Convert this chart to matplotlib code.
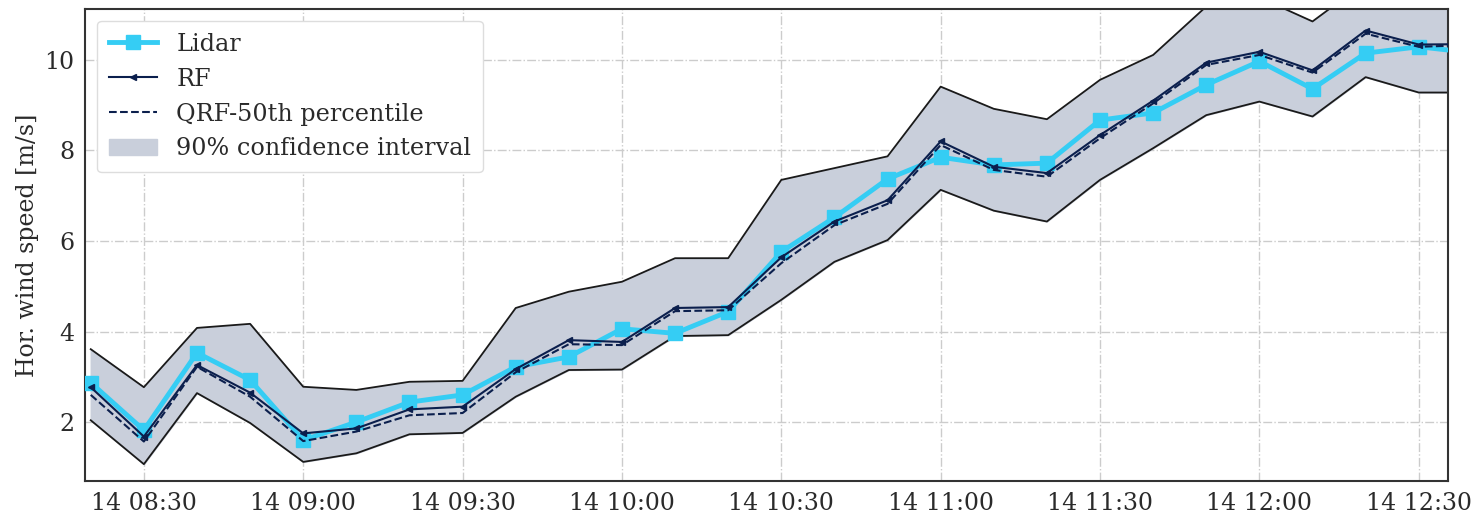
import numpy as np
import pandas as pd
import matplotlib
matplotlib.use("Agg")
import matplotlib.pyplot as plt
import matplotlib.dates as mdates

# ============================================
# data (10 min steps)
times = pd.date_range("2020-06-14 08:20", periods=27, freq="10min")

lidar = [2.87, 1.82, 3.53, 2.93, 1.60, 2.00, 2.44, 2.60, 3.22, 3.44, 4.06, 3.96, 4.44,
         5.76, 6.52, 7.37, 7.85, 7.68, 7.72, 8.67, 8.83, 9.45, 9.97, 9.36, 10.15, 10.29, 10.16]
rf = [2.77, 1.68, 3.26, 2.65, 1.75, 1.86, 2.28, 2.34, 3.17, 3.81, 3.77, 4.52, 4.54,
      5.64, 6.43, 6.90, 8.20, 7.64, 7.50, 8.34, 9.10, 9.94, 10.18, 9.77, 10.65, 10.34, 10.35]
qrf50 = [2.60, 1.57, 3.22, 2.56, 1.58, 1.79, 2.15, 2.20, 3.10, 3.72, 3.70, 4.45, 4.47,
         5.51, 6.35, 6.82, 8.12, 7.57, 7.42, 8.27, 9.04, 9.89, 10.11, 9.72, 10.58, 10.29, 10.33]
upper = [3.61, 2.77, 4.08, 4.17, 2.78, 2.71, 2.89, 2.91, 4.52, 4.88, 5.10, 5.62, 5.62,
         7.35, 7.61, 7.87, 9.41, 8.92, 8.69, 9.56, 10.11, 11.18, 11.38, 10.85, 11.72, 11.60, 11.50]
lower = [2.04, 1.07, 2.64, 1.98, 1.12, 1.31, 1.73, 1.76, 2.56, 3.15, 3.16, 3.90, 3.92,
         4.70, 5.54, 6.02, 7.13, 6.67, 6.43, 7.35, 8.05, 8.78, 9.08, 8.75, 9.62, 9.28, 9.28]

# ============================================
# plot
plt.rcParams['font.family'] = ['DejaVu Serif']

fig = plt.figure(figsize=(14.73, 5.16), dpi=100)
ax = fig.add_axes([0.058, 0.068, 0.925, 0.915])

navy = '#0b1f4d'
ax.fill_between(times, lower, upper, color='#c9cfdb', label='90% confidence interval', zorder=1)
ax.plot(times, upper, color='#1a1a1a', linewidth=1.3, zorder=2)
ax.plot(times, lower, color='#1a1a1a', linewidth=1.3, zorder=2)

ax.plot(times, lidar, color='#35cdf4', linewidth=3.5, marker='s', markersize=10,
        label='Lidar', zorder=3)
ax.plot(times, rf, color=navy, linewidth=1.5, marker='<', markersize=5,
        label='RF', zorder=4)
ax.plot(times, qrf50, color=navy, linewidth=1.5, linestyle='--',
        label='QRF-50th percentile', zorder=4)

ax.set_xlim(pd.Timestamp("2020-06-14 08:19"), pd.Timestamp("2020-06-14 12:35:30"))
ax.set_ylim(0.7, 11.13)
ax.set_yticks([2, 4, 6, 8, 10])
ax.xaxis.set_major_locator(mdates.MinuteLocator(byminute=[0, 30]))
ax.xaxis.set_major_formatter(mdates.DateFormatter('%d %H:%M'))

ax.grid(True, color='#cccccc', linestyle='-.', linewidth=1.0)
ax.set_axisbelow(True)
ax.tick_params(length=0, labelsize=17, pad=8, labelcolor='#2a2a2a')
for s in ax.spines.values():
    s.set_color('#333333')
    s.set_linewidth(1.5)

ax.set_ylabel('Hor. wind speed [m/s]', fontsize=17, color='#2a2a2a')

handles, labels = ax.get_legend_handles_labels()
order = [labels.index(l) for l in ['Lidar', 'RF', 'QRF-50th percentile', '90% confidence interval']]
leg = ax.legend([handles[i] for i in order], [labels[i] for i in order], loc='upper left',
                fontsize=17.2, frameon=True, edgecolor='#dddddd', framealpha=1,
                borderpad=0.5, labelspacing=0.5, handlelength=2.0)
for t in leg.get_texts():
    t.set_color('#2a2a2a')

fig.savefig('out.png', dpi=100)
